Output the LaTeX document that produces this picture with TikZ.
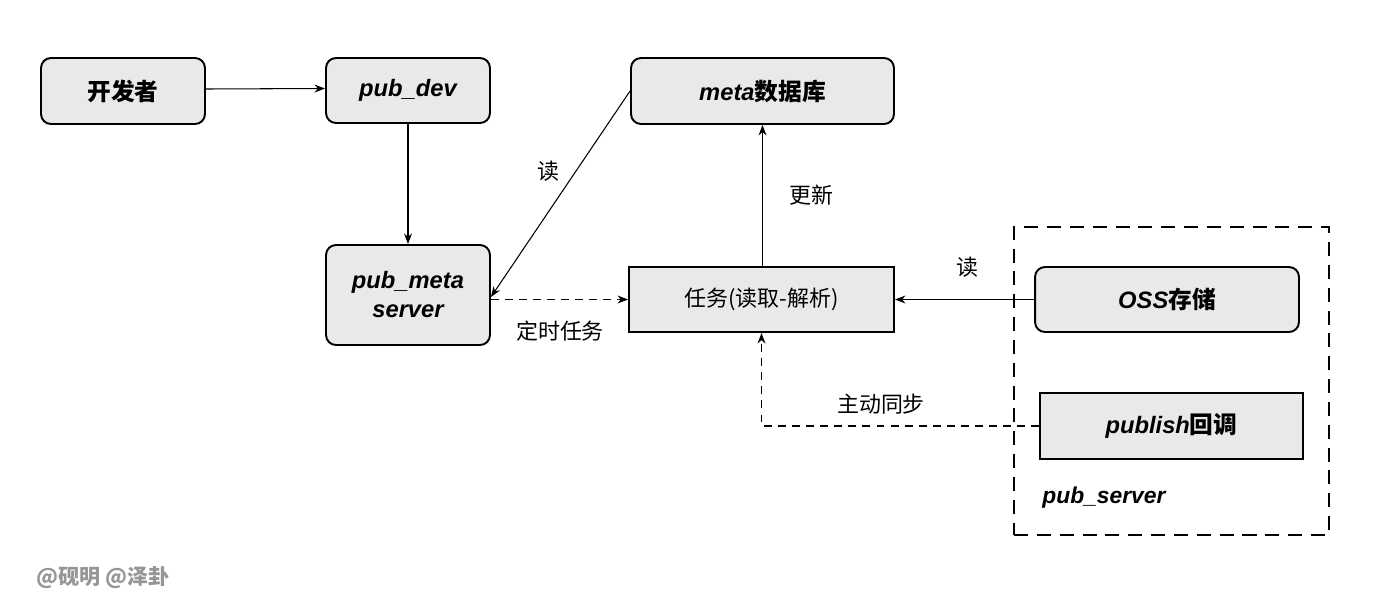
\documentclass[tikz,border=0pt]{standalone}
\usepackage{fontspec}
\setmainfont{Liberation Sans}
\newfontfamily\cjk{Noto Sans CJK SC}
\usetikzlibrary{arrows.meta,positioning}
\definecolor{boxfill}{RGB}{233,233,231}
\definecolor{wm}{RGB}{150,150,150}
\tikzset{
  rbox/.style={draw=black, line width=1.1pt, fill=boxfill, rounded corners=0.2cm, inner sep=0pt, align=center, font=\fontsize{13.5}{16.5}\selectfont\bfseries\itshape},
  sbox/.style={draw=black, line width=1.1pt, fill=boxfill, inner sep=0pt, align=center, font=\fontsize{13.5}{16.5}\selectfont\bfseries\itshape},
  conn/.style={line width=0.6pt, -{Stealth[length=6pt,width=4.5pt]}},
  dconn/.style={conn, dash pattern=on 4.5pt off 3.5pt},
  lbl/.style={font=\fontsize{12.5}{15}\selectfont\cjk, inner sep=0pt},
  group/.style={draw=black, line width=1.2pt, dash pattern=on 8pt off 5pt},
}
\begin{document}
\begin{tikzpicture}[x=0.02cm,y=-0.02cm]
\useasboundingbox (0,0) rectangle (1400,602);
% nodes
\node[rbox, minimum width=3.28cm, minimum height=1.32cm] (dev) at (123,91) {{\cjk\bfseries\upshape 开发者}};
\node[rbox, minimum width=3.28cm, minimum height=1.30cm] (pubdev) at (408,90.5) {pub\_dev};
\node[rbox, minimum width=5.26cm, minimum height=1.32cm] (meta) at (762.5,91) {meta{\cjk\bfseries\upshape 数据库}};
\node[rbox, minimum width=3.28cm, minimum height=2.00cm] (pubmeta) at (408,295) {pub\_meta\\[0pt]server};
\node[sbox, minimum width=5.30cm, minimum height=1.30cm, font=\fontsize{12.5}{15}\selectfont\cjk] (task) at (761.5,299.5) {任务(读取-解析)};
\node[draw=black, group, minimum width=6.30cm, minimum height=6.16cm, inner sep=0pt] (server) at (1171.5,381) {};
\node[rbox, minimum width=5.28cm, minimum height=1.30cm] (oss) at (1167,299.5) {OSS{\cjk\bfseries\upshape 存储}};
\node[sbox, minimum width=5.26cm, minimum height=1.32cm] (publish) at (1171.5,426) {publish{\cjk\bfseries\upshape 回调}};
\node[font=\fontsize{13}{16}\selectfont\bfseries\itshape, anchor=west, inner sep=0pt] (servername) at (1042,498) {pub\_server};
% connectors
\draw[conn] ([yshift=0.04cm]dev.east) -- ([yshift=0.04cm]pubdev.west);
\draw[conn] (pubdev.south) -- (pubmeta.north);
\draw[conn] (meta.west) -- ([yshift=-0.04cm]pubmeta.east);
\draw[dconn] (task.west -| pubmeta.east) -- (task.west);
\draw[conn] (task.north -| meta.south) -- (meta.south);
\draw[conn] (oss.west) -- (task.east);
\draw[dconn] (publish.west) -| (task.south);
% labels
\node[lbl] (l1) at (548,171) {读};
\node[lbl] (l2) at (560,331) {定时任务};
\node[lbl] (l3) at (811,195) {更新};
\node[lbl] (l4) at (967,267) {读};
\node[lbl] (l5) at (881,404) {主动同步};
\node[font=\fontsize{12}{14}\selectfont\cjk\bfseries, text=wm, inner sep=0pt] (wmk) at (103,578) {@砚明 @泽卦};
\end{tikzpicture}
\end{document}
